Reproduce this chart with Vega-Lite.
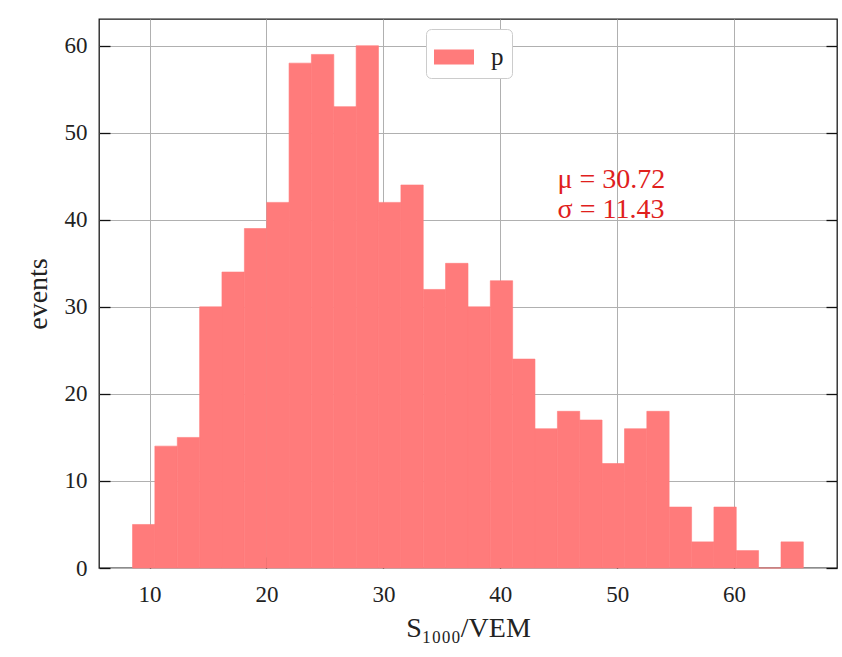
{
  "$schema": "https://vega.github.io/schema/vega-lite/v6.json",
  "width": 738,
  "height": 549,
  "autosize": {"type": "none"},
  "padding": {"left": 99, "top": 19, "right": 5, "bottom": 89},
  "background": "white",
  "config": {
    "view": {"stroke": "#1a1a1a", "strokeWidth": 1.3},
    "font": "Liberation Serif",
    "axis": {
      "labelFont": "Liberation Serif",
      "titleFont": "Liberation Serif",
      "labelColor": "#222",
      "titleColor": "#222",
      "labelFontSize": 23,
      "titleFontSize": 28,
      "titleFontWeight": "normal",
      "gridColor": "#b0b0b0",
      "gridWidth": 1,
      "gridOpacity": 1,
      "tickColor": "#111",
      "tickWidth": 1.3,
      "tickSize": -11,
      "domain": false,
      "zindex": 1
    }
  },
  "datasets": {
    "hist": [
      {"lo": 8.54, "hi": 10.45, "n": 5},
      {"lo": 10.45, "hi": 12.37, "n": 14},
      {"lo": 12.37, "hi": 14.28, "n": 15},
      {"lo": 14.28, "hi": 16.19, "n": 30},
      {"lo": 16.19, "hi": 18.11, "n": 34},
      {"lo": 18.11, "hi": 20.02, "n": 39},
      {"lo": 20.02, "hi": 21.93, "n": 42},
      {"lo": 21.93, "hi": 23.84, "n": 58},
      {"lo": 23.84, "hi": 25.76, "n": 59},
      {"lo": 25.76, "hi": 27.67, "n": 53},
      {"lo": 27.67, "hi": 29.58, "n": 60},
      {"lo": 29.58, "hi": 31.50, "n": 42},
      {"lo": 31.50, "hi": 33.41, "n": 44},
      {"lo": 33.41, "hi": 35.32, "n": 32},
      {"lo": 35.32, "hi": 37.24, "n": 35},
      {"lo": 37.24, "hi": 39.15, "n": 30},
      {"lo": 39.15, "hi": 41.06, "n": 33},
      {"lo": 41.06, "hi": 42.97, "n": 24},
      {"lo": 42.97, "hi": 44.89, "n": 16},
      {"lo": 44.89, "hi": 46.80, "n": 18},
      {"lo": 46.80, "hi": 48.71, "n": 17},
      {"lo": 48.71, "hi": 50.63, "n": 12},
      {"lo": 50.63, "hi": 52.54, "n": 16},
      {"lo": 52.54, "hi": 54.45, "n": 18},
      {"lo": 54.45, "hi": 56.37, "n": 7},
      {"lo": 56.37, "hi": 58.28, "n": 3},
      {"lo": 58.28, "hi": 60.19, "n": 7},
      {"lo": 60.19, "hi": 62.10, "n": 2},
      {"lo": 62.10, "hi": 64.02, "n": 0},
      {"lo": 64.02, "hi": 65.93, "n": 3}
    ],
    "stats": [
      {"tx": 44.9, "ty": 43.7, "label": "μ = 30.72"},
      {"tx": 44.9, "ty": 40.2, "label": "σ = 11.43"}
    ]
  },
  "layer": [
    {
      "data": {"name": "hist"},
      "mark": {"type": "rect", "opacity": 1, "stroke": "#ff7b7b", "strokeWidth": 0.6},
      "encoding": {
        "x": {
          "field": "lo", "type": "quantitative",
          "scale": {"domain": [5.67, 68.81], "nice": false, "zero": false},
          "axis": {
            "orient": "bottom",
            "values": [10, 20, 30, 40, 50, 60],
            "title": "S₁₀₀₀/VEM",
            "labelPadding": 26,
            "titlePadding": 8,
            "grid": true
          }
        },
        "x2": {"field": "hi"},
        "y": {
          "field": "n", "type": "quantitative",
          "scale": {"domain": [0, 63.07], "nice": false},
          "axis": {
            "orient": "left",
            "values": [0, 10, 20, 30, 40, 50, 60],
            "title": "events",
            "labelPadding": 23,
            "titlePadding": 12,
            "grid": true
          }
        },
        "y2": {"datum": 0},
        "color": {
          "datum": "p",
          "type": "nominal",
          "scale": {"range": ["#ff7b7b"]},
          "legend": {
            "title": null,
            "orient": "none",
            "legendX": 327,
            "legendY": 10,
            "padding": 8,
            "fillColor": "white",
            "strokeColor": "#cccccc",
            "cornerRadius": 5,
            "symbolType": "M-1,-0.375H1V0.375H-1Z",
            "symbolSize": 1600,
            "symbolStrokeWidth": 0,
            "symbolOpacity": 1,
            "labelFont": "Liberation Serif",
            "labelFontSize": 25,
            "labelColor": "#222",
            "labelOffset": 17,
            "zindex": 2
          }
        }
      }
    },
    {
      "data": {"name": "hist"},
      "mark": {"type": "rule", "opacity": 0},
      "encoding": {
        "y": {
          "field": "n", "type": "quantitative",
          "axis": {
            "orient": "right",
            "values": [0, 10, 20, 30, 40, 50, 60],
            "labels": false,
            "title": null,
            "grid": false
          }
        }
      }
    },
    {
      "data": {"name": "stats"},
      "mark": {"type": "text", "align": "left", "baseline": "alphabetic", "fontSize": 28, "font": "Liberation Serif", "color": "#e0201c"},
      "encoding": {
        "x": {"field": "tx", "type": "quantitative"},
        "y": {"field": "ty", "type": "quantitative", "axis": null},
        "text": {"field": "label"}
      }
    }
  ],
  "resolve": {"axis": {"y": "independent"}, "scale": {"y": "shared"}}
}
